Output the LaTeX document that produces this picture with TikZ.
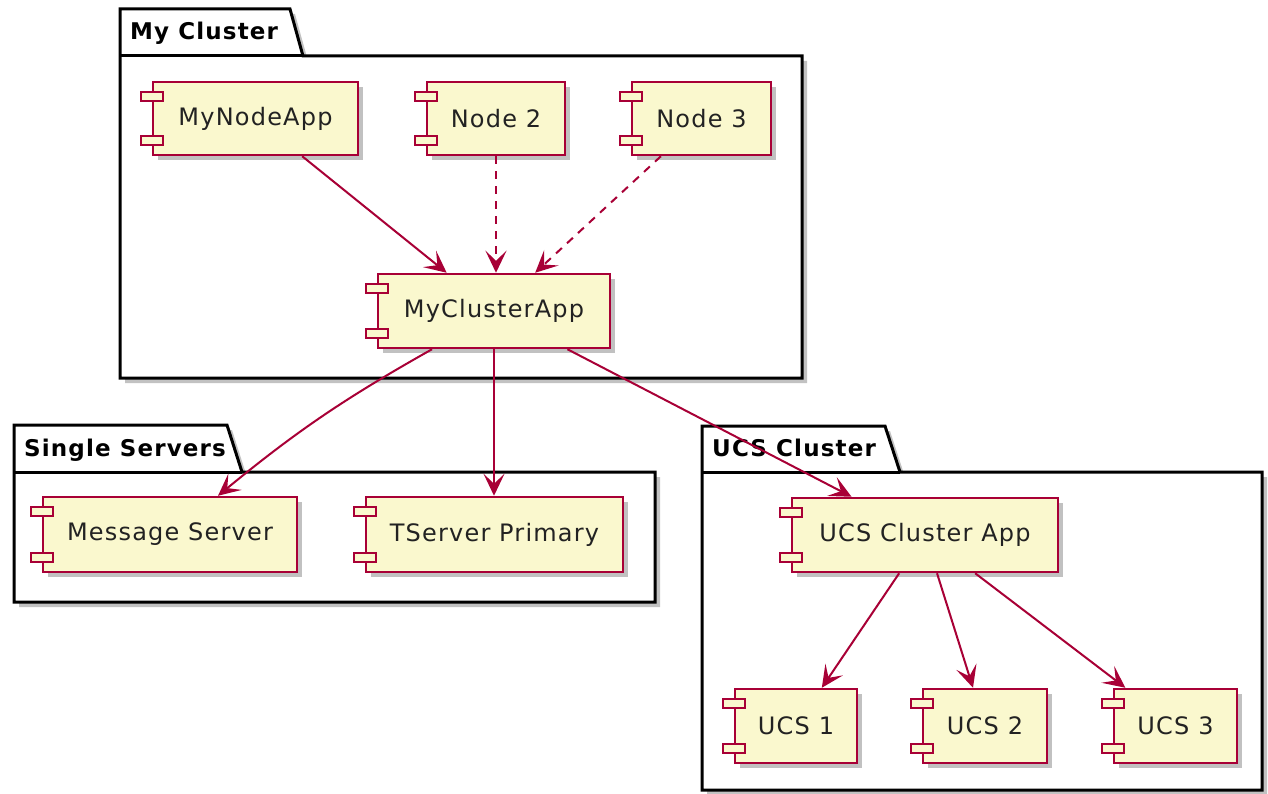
\documentclass[tikz,border=0pt]{standalone}
\usepackage{fontspec}
\setmainfont{DejaVu Sans}[LetterSpace=5]
\usetikzlibrary{arrows.meta,shadows,calc}
\definecolor{compfill}{HTML}{FAF8CE}
\definecolor{compline}{HTML}{A80036}
\definecolor{txt}{HTML}{222222}
\tikzset{
  comp/.style={draw=compline, fill=compfill, line width=2.5pt, rectangle, inner sep=0pt,
    text=txt, font=\fontsize{24}{28}\selectfont,
    drop shadow={shadow xshift=5pt, shadow yshift=-5pt, opacity=0.4, fill=black!60}},
  compbar/.style={draw=compline, fill=compfill, line width=2.2pt},
  pkg/.style={draw=black, fill=white, line width=3pt, line join=miter,
    drop shadow={shadow xshift=5pt, shadow yshift=-5pt, opacity=0.4, fill=black!60}},
  pkgline/.style={draw=black, line width=3pt},
  pkgtitle/.style={anchor=base west, inner sep=0pt, font=\bfseries\fontsize{23}{27}\selectfont, text=black},
  conn/.style={draw=compline, line width=2pt, -{Stealth[length=22pt, width=21pt, inset=10pt]}},
  dconn/.style={conn, dash pattern=on 8pt off 7pt},
}
\newcommand\comp[6]{%
  \node[comp, minimum width={#4-#2}, minimum height={#5-#3}] (#1) at ({(#2+#4)/2},{(#3+#5)/2}) {#6};
  \draw[compbar] ([shift={(-11pt,-11pt)}]#1.north west) rectangle ++(22pt,-9pt);
  \draw[compbar] ([shift={(-11pt,11pt)}]#1.south west) rectangle ++(22pt,9pt);
}
% name, x1, ytop, xtabright, xtabslant, ybody, x2, ybottom, title
\newcommand\pkgbox[9]{%
  \path[pkg] (#2,#3) -- (#4,#3) -- (#5,#6) -- (#7,#6) -- (#7,#8) -- (#2,#8) -- cycle;
  \draw[pkgline] (#2,#6) -- (#5,#6);
  \node[pkgtitle] (#1) at ({#2+10},{#6-16}) {#9};
}
\begin{document}
\begin{tikzpicture}[x=1pt,y=-1pt]
\useasboundingbox (0,0) rectangle (1268,794);
% packages
\pkgbox{tmy}{120}{9}{290}{303}{56}{802}{378}{My Cluster}
\pkgbox{tsingle}{14}{425}{227}{242}{472}{655}{602}{Single Servers}
\pkgbox{tucs}{702}{426}{885}{900}{472}{1262}{790}{UCS Cluster}
% components
\comp{mynode}{153}{82}{358}{155}{MyNodeApp}
\comp{node2}{427}{82}{565}{155}{Node 2}
\comp{node3}{632}{82}{771}{155}{Node 3}
\comp{mycluster}{378}{274}{610}{348}{MyClusterApp}
\comp{msg}{43}{497}{297}{572}{Message Server}
\comp{tserver}{366}{497}{623}{572}{TServer Primary}
\comp{ucsapp}{792}{498}{1058}{572}{UCS Cluster App}
\comp{ucs1}{735}{689}{857}{763}{UCS 1}
\comp{ucs2}{923}{689}{1047}{763}{UCS 2}
\comp{ucs3}{1114}{689}{1237}{763}{UCS 3}
% connectors
\draw[conn] (mynode) -- (mycluster);
\draw[dconn] (node2.south) -- (node2.south |- mycluster.north);
\draw[dconn] (node3) -- (mycluster);
\draw[conn] ([xshift=-62pt]mycluster.south) to[bend right=5] ([xshift=48pt]msg.north);
\draw[conn] (mycluster.south) -- (mycluster.south |- tserver.north);
\draw[conn] (mycluster) -- (ucsapp);
\draw[conn] (ucsapp) -- (ucs1);
\draw[conn] (ucsapp) -- (ucs2);
\draw[conn] (ucsapp) -- (ucs3);
\end{tikzpicture}
\end{document}
